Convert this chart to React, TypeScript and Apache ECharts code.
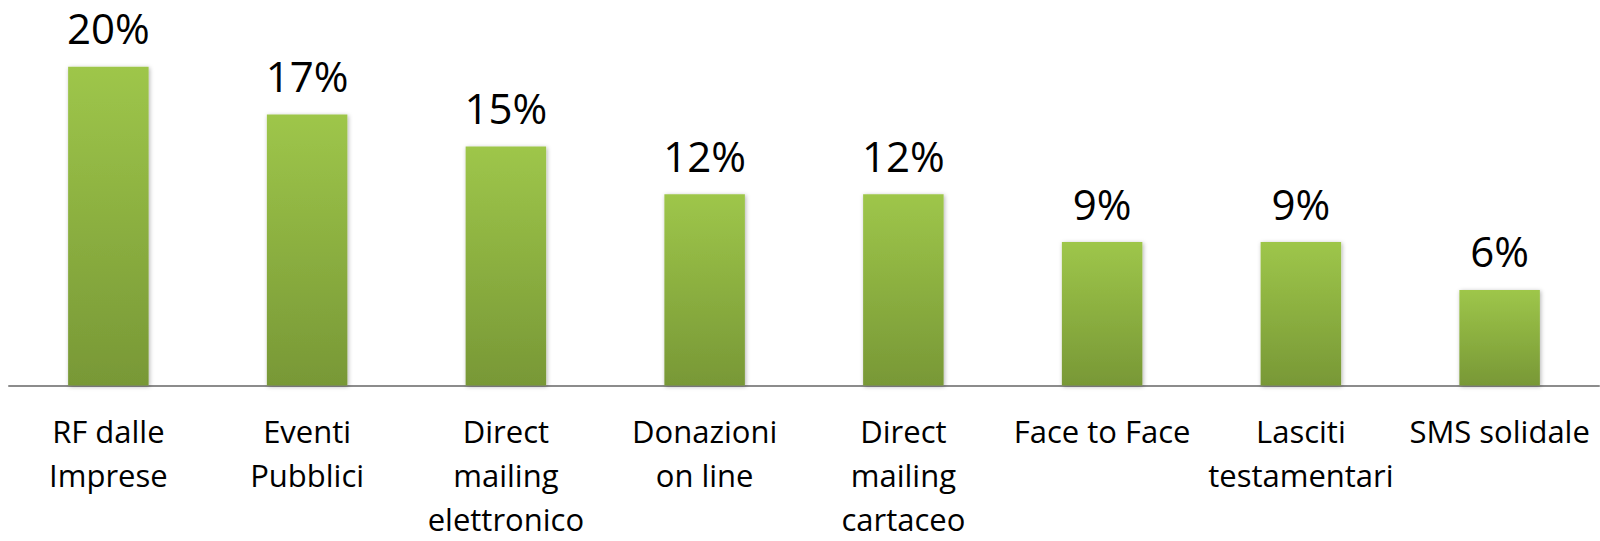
import React, { useEffect, useRef } from "react";
import * as echarts from "echarts";

const categories = [
  "RF dalle\nImprese",
  "Eventi\nPubblici",
  "Direct\nmailing\nelettronico",
  "Donazioni\non line",
  "Direct\nmailing\ncartaceo",
  "Face to Face",
  "Lasciti\ntestamentari",
  "SMS solidale",
];
const values = [20, 17, 15, 12, 12, 9, 9, 6];

export default function App() {
  const ref = useRef<HTMLDivElement>(null);
  useEffect(() => {
    if (!ref.current) return;
    const chart = echarts.init(ref.current, null, { renderer: "svg" });
    chart.setOption({
      animation: false,
      backgroundColor: "#ffffff",
      grid: {
        left: 9,
        right: 1,
        top: 3,
        bottom: 155.5,
        containLabel: false,
        outerBoundsMode: "none",
      },
      xAxis: {
        type: "category",
        data: categories,
        axisLine: { show: true, lineStyle: { color: "#8c8c8c", width: 2 } },
        axisTick: { show: false },
        axisLabel: {
          interval: 0,
          color: "#000000",
          fontFamily: "Open Sans",
          fontSize: 31,
          lineHeight: 44,
          margin: 23.5,
        },
      },
      yAxis: {
        type: "value",
        min: 0,
        max: 24,
        show: false,
        splitLine: { show: false },
      },
      series: [
        {
          type: "bar",
          data: values,
          barWidth: "40.5%",
          itemStyle: {
            color: new echarts.graphic.LinearGradient(0, 0, 0, 1, [
              { offset: 0, color: "#9ec64a" },
              { offset: 1, color: "#789836" },
            ]),
            shadowBlur: 4,
            shadowColor: "rgba(0,0,0,0.3)",
            shadowOffsetX: 1,
            shadowOffsetY: 1,
          },
          label: {
            show: true,
            position: "top",
            distance: 18,
            color: "#000000",
            fontFamily: "Open Sans",
            fontSize: 42,
            lineHeight: 42,
            formatter: (p: any) => p.value + "%",
          },
        },
      ],
    });
    return () => chart.dispose();
  }, []);
  return (
    <div
      ref={ref}
      style={{ position: "fixed", left: 0, top: 0, width: 1600, height: 541 }}
    />
  );
}
